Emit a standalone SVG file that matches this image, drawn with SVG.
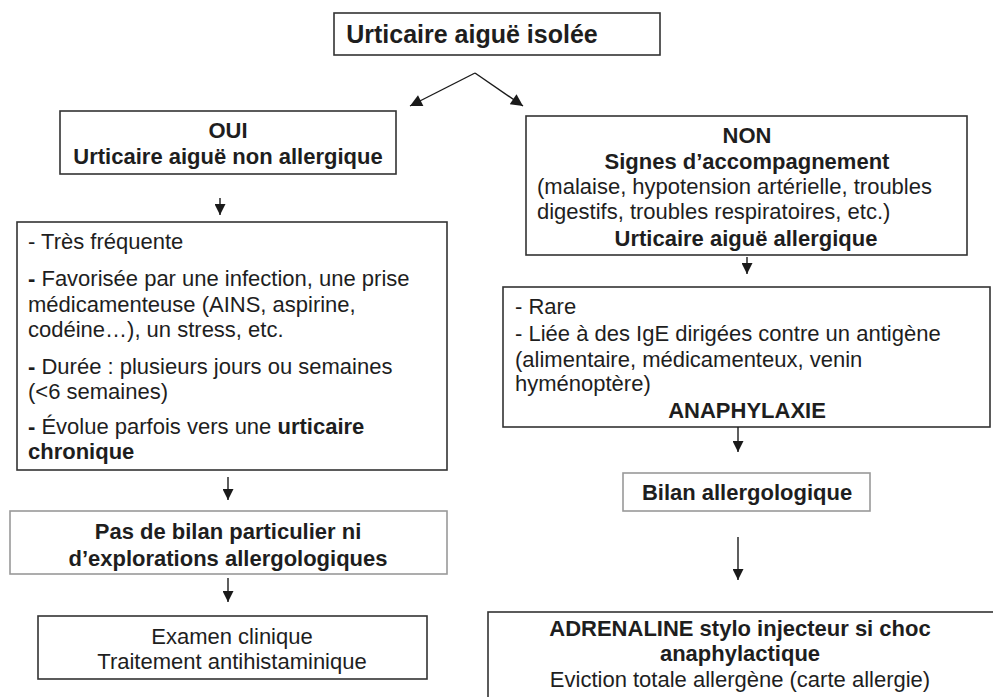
<svg xmlns="http://www.w3.org/2000/svg" width="993" height="697" viewBox="0 0 993 697">
<defs>
<marker id="ah" viewBox="0 0 10 10" refX="10" refY="5" markerWidth="12" markerHeight="11" markerUnits="userSpaceOnUse" orient="auto">
<path d="M0,0 L10,5 L0,10 Z" fill="#1a1a1a"/>
</marker>
<marker id="ahd" viewBox="0 0 10 10" refX="10" refY="5" markerWidth="15" markerHeight="12" markerUnits="userSpaceOnUse" orient="auto">
<path d="M0,0 L10,5 L0,10 Z" fill="#1a1a1a"/>
</marker>
</defs>
<style>
.box{fill:#fff;stroke:#333;stroke-width:1.6}
.gbox{fill:#fff;stroke:#999;stroke-width:1.6}
text{font-family:"Liberation Sans",Arial,sans-serif;font-size:22px;fill:#1e1e1e}
.b{font-weight:bold}
.c{text-anchor:middle}
.conn line{stroke:#1a1a1a;stroke-width:1.4;fill:none;marker-end:url(#ah)}
.conn line.d{marker-end:url(#ahd)}
</style>
<rect width="993" height="697" fill="#fff"/>
<g id="n-top">
<rect class="box" x="334" y="13" width="326" height="42"/>
<text class="b c" x="472" y="43" style="font-size:25px">Urticaire aiguë isolée</text>
</g>
<g id="n-oui">
<rect class="box" x="60" y="111" width="336" height="63"/>
<text class="b c" x="228" y="138">OUI</text>
<text class="b c" x="228" y="164">Urticaire aiguë non allergique</text>
</g>
<g id="n-left-details">
<rect class="box" x="17" y="222" width="430" height="248"/>
<text x="28" y="249">- Très fréquente</text>
<text x="28" y="286"><tspan class="b">-</tspan> Favorisée par une infection, une prise</text>
<text x="28" y="312">médicamenteuse (AINS, aspirine,</text>
<text x="28" y="337">codéine…), un stress, etc.</text>
<text x="28" y="374"><tspan class="b">-</tspan> Durée : plusieurs jours ou semaines</text>
<text x="28" y="399">(&lt;6 semaines)</text>
<text x="28" y="434"><tspan class="b">-</tspan> Évolue parfois vers une <tspan class="b">urticaire</tspan></text>
<text class="b" x="28" y="459">chronique</text>
</g>
<g id="n-pas-bilan">
<rect class="gbox" x="10" y="511" width="437" height="63"/>
<text class="b c" x="228" y="539">Pas de bilan particulier ni</text>
<text class="b c" x="228" y="566">d’explorations allergologiques</text>
</g>
<g id="n-examen">
<rect class="box" x="38" y="616" width="389" height="63"/>
<text class="c" x="232" y="644">Examen clinique</text>
<text class="c" x="232" y="669">Traitement antihistaminique</text>
</g>
<g id="n-non">
<rect class="box" x="526" y="116" width="441" height="139"/>
<text class="b c" x="747" y="143">NON</text>
<text class="b c" x="747" y="169">Signes d’accompagnement</text>
<text x="537" y="194">(malaise, hypotension artérielle, troubles</text>
<text x="537" y="219">digestifs, troubles respiratoires, etc.)</text>
<text class="b c" x="746" y="246">Urticaire aiguë allergique</text>
</g>
<g id="n-rare">
<rect class="box" x="503" y="287" width="487" height="140"/>
<text x="515" y="314">- Rare</text>
<text x="515" y="341">- Liée à des IgE dirigées contre un antigène</text>
<text x="515" y="367">(alimentaire, médicamenteux, venin</text>
<text x="515" y="391">hyménoptère)</text>
<text class="b c" x="747" y="418">ANAPHYLAXIE</text>
</g>
<g id="n-bilan">
<rect class="gbox" x="623" y="473" width="247" height="38"/>
<text class="b c" x="747" y="500">Bilan allergologique</text>
</g>
<g id="n-adrenaline">
<rect class="box" x="488" y="612" width="520" height="100"/>
<text class="b c" x="740" y="636">ADRENALINE stylo injecteur si choc</text>
<text class="b c" x="740" y="661">anaphylactique</text>
<text class="c" x="740" y="687">Eviction totale allergène (carte allergie)</text>
</g>
<g class="conn" id="connectors">
<line class="d" x1="475" y1="73" x2="410" y2="106"/>
<line class="d" x1="475" y1="73" x2="523" y2="106"/>
<line x1="220" y1="198" x2="220" y2="215"/>
<line x1="228" y1="477" x2="228" y2="500"/>
<line x1="228" y1="578" x2="228" y2="602"/>
<line x1="747" y1="257" x2="747" y2="274"/>
<line x1="738" y1="427" x2="738" y2="452"/>
<line x1="738" y1="537" x2="738" y2="580"/>
</g>
</svg>
